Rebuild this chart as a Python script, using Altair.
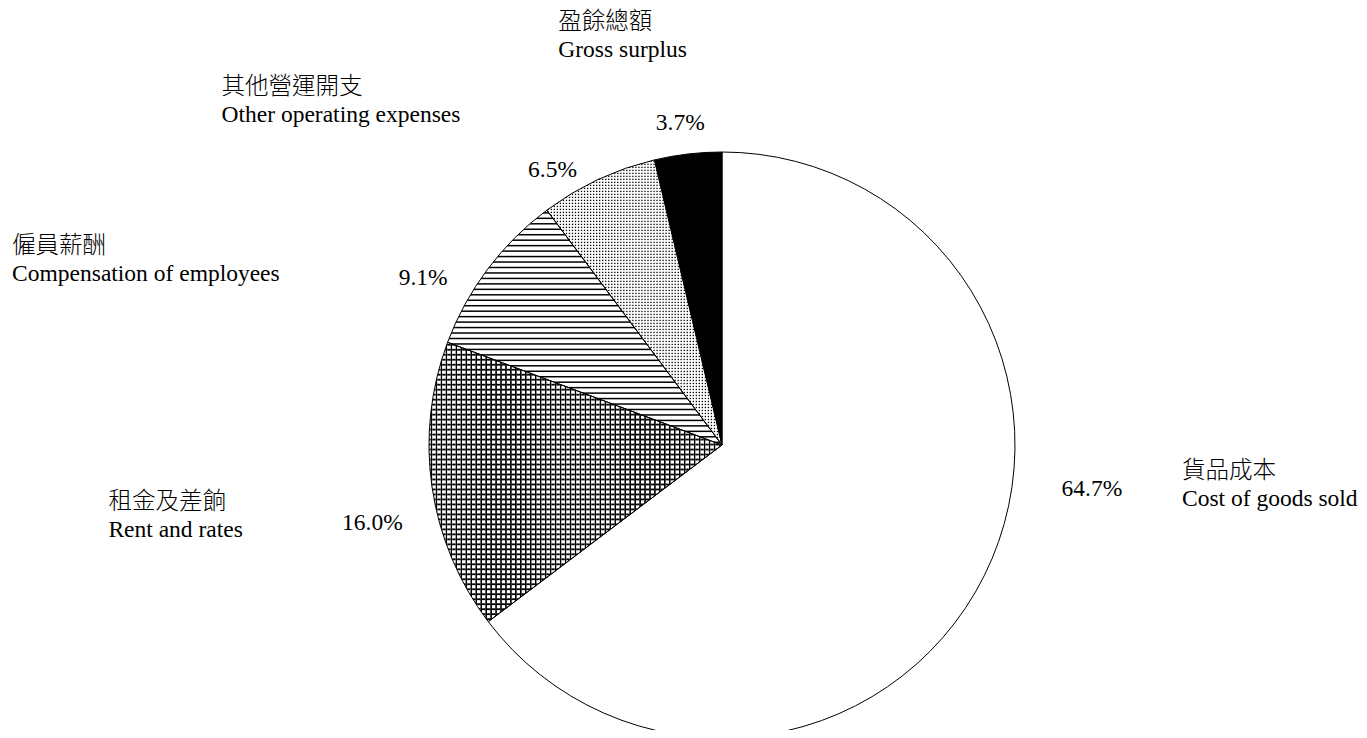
import math
import altair as alt
import pandas as pd

# ---- data ----
keys = ["cost", "rent", "comp", "other", "gross"]
names_zh = ["貨品成本", "租金及差餉", "僱員薪酬", "其他營運開支", "盈餘總額"]
names_en = ["Cost of goods sold", "Rent and rates", "Compensation of employees",
            "Other operating expenses", "Gross surplus"]
shares = [64.7, 16.0, 9.1, 6.5, 3.7]

df = pd.DataFrame({"key": keys, "zh": names_zh, "en": names_en,
                   "value": shares, "idx": list(range(len(keys)))})

# ---- layout / style ----
W, H = 1351, 722
CX, CY, R = 714, 437, 293
R_LAB = 325
FONT = "Liberation Serif, Times New Roman, Noto Sans CJK TC"
FS = 23.5
LINE = 28
total = sum(shares)

# label offsets (dx, dy) relative to the polar anchor of each slice
pct_off = {"gross": (-4, 1), "other": (-32, 20), "comp": (-39, 28),
           "rent": (-28, 31), "cost": (79, -101)}
name_off = {"gross": (-126, -100), "other": (-363, -63), "comp": (-450, -4),
            "rent": (-292, 10), "cost": (169, -119)}


def slice_bbox(i):
    a0 = sum(shares[:i]) / total
    a1 = sum(shares[:i + 1]) / total
    pts = [(0.0, 0.0)]
    angs = [a0, a1] + [k * 0.25 for k in range(5) if a0 < k * 0.25 < a1]
    for f in angs:
        t = 2 * math.pi * f
        pts.append((R * math.sin(t), -R * math.cos(t)))
    xs, ys = zip(*pts)
    return max(xs) - min(xs), max(ys) - min(ys)


def stripes(extent, spacing, width, line, gap, vertical):
    """Linear gradient giving evenly spaced soft-edged lines."""
    n = max(1, round(extent / spacing))
    s = extent / n
    ramp = 0.5
    stops = [{"offset": 0.0, "color": gap}]
    for i in range(n):
        c = (i + 0.5) * s
        a = c - width / 2 - ramp
        b = c - width / 2 + ramp
        d = c + width / 2 - ramp
        e = c + width / 2 + ramp
        if d < b:
            b = d = c
        for off, col in ((a, gap), (b, line), (d, line), (e, gap)):
            stops.append({"offset": round(min(max(off / extent, 0.0), 1.0), 6),
                          "color": col})
    stops.append({"offset": 1.0, "color": gap})
    return {"gradient": "linear", "stops": stops, "x1": 0, "y1": 0,
            "x2": 1 if vertical else 0, "y2": 0 if vertical else 1}


CLEAR = "rgba(255,255,255,0)"
bb = {k: slice_bbox(i) for i, k in enumerate(keys)}

base_fill = {
    "cost": "white",
    "rent": stripes(bb["rent"][1], 5.0, 1.8, "black", "white", False),
    "comp": stripes(bb["comp"][1], 5.4, 1.5, "black", "white", False),
    "other": "black",
    "gross": "black",
}
overlay_fill = {
    "rent": [stripes(bb["rent"][0], 5.0, 1.8, "black", CLEAR, True)],
    "other": [stripes(bb["other"][1], 3.0, 1.3, CLEAR, "white", False),
              stripes(bb["other"][0], 3.0, 1.3, CLEAR, "white", True)],
}

theta_scale = alt.Scale(domain=[0, total])

base = alt.Chart(df).transform_window(
    cum="sum(value)", sort=[alt.SortField("idx")]
).transform_calculate(
    start="datum.cum - datum.value",
    mid="datum.cum - datum.value / 2",
    pct="format(datum.value, '.1f') + '%'",
)

arc_enc = dict(
    theta=alt.Theta("start:Q", scale=theta_scale),
    theta2="cum:Q",
    x=alt.value(CX),
    y=alt.value(CY),
)

layers = []
for k in keys:
    layers.append(
        base.transform_filter(alt.datum.key == k)
        .mark_arc(outerRadius=R, fill=base_fill[k])
        .encode(**arc_enc)
    )
for k, fills in overlay_fill.items():
    for f in fills:
        layers.append(
            base.transform_filter(alt.datum.key == k)
            .mark_arc(outerRadius=R, fill=f)
            .encode(**arc_enc)
        )
# outlines
layers.append(
    base.mark_arc(outerRadius=R, fillOpacity=0, stroke="black", strokeWidth=1)
    .encode(**arc_enc)
)


def text_layer(k, field, dx, dy, align, weight=400):
    return (
        base.transform_filter(alt.datum.key == k)
        .mark_text(font=FONT, fontSize=FS, fontWeight=weight, align=align,
                   baseline="middle", dx=dx, dy=dy, radius=R_LAB, color="black")
        .encode(theta=alt.Theta("mid:Q", scale=theta_scale),
                text=alt.Text(f"{field}:N"),
                x=alt.value(CX), y=alt.value(CY))
    )


for k in keys:
    dx, dy = pct_off[k]
    layers.append(text_layer(k, "pct", dx, dy, "center"))
    dx, dy = name_off[k]
    layers.append(text_layer(k, "zh", dx, dy, "left", 300))
    layers.append(text_layer(k, "en", dx, dy + LINE, "left"))

chart = alt.layer(*layers).properties(
    width=W, height=H, padding=0,
    autosize=alt.AutoSizeParams(type="none"),
    background="white",
).configure_view(strokeWidth=0)

chart.save("out.html", embed_options={"renderer": "svg", "actions": False})
